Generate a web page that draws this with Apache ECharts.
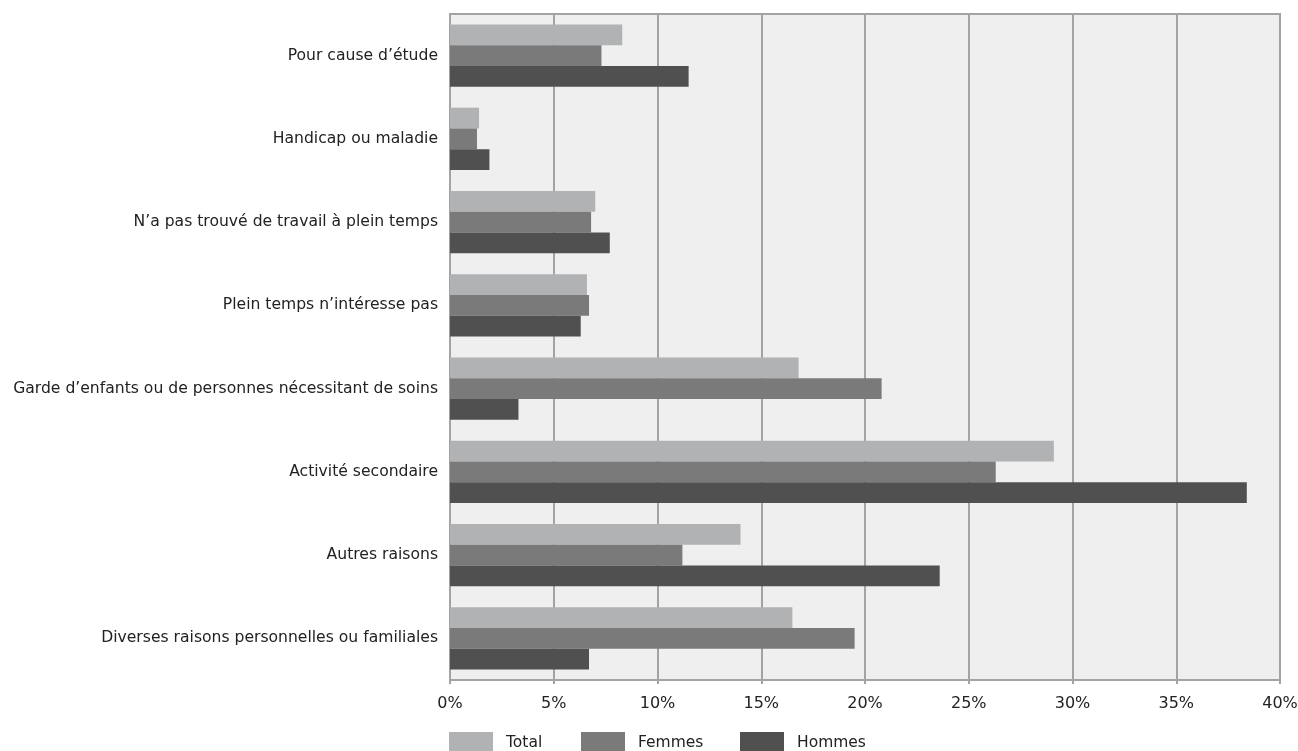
<!DOCTYPE html>
<html>
<head>
<meta charset="utf-8">
<script src="https://cdn.jsdelivr.net/npm/echarts@6/dist/echarts.min.js"></script>
<style>
html,body{margin:0;padding:0;background:#fff;}
#chart{width:1298px;height:751px;}
</style>
</head>
<body>
<div id="chart"></div>
<script>
const categories = [
  "Pour cause d’étude",
  "Handicap ou maladie",
  "N’a pas trouvé de travail à plein temps",
  "Plein temps n’intéresse pas",
  "Garde d’enfants ou de personnes nécessitant de soins",
  "Activité secondaire",
  "Autres raisons",
  "Diverses raisons personnelles ou familiales"
];
const seriesNames = ["Total", "Femmes", "Hommes"];
const totalValues  = [8.3, 1.4, 7.0, 6.6, 16.8, 29.1, 14.0, 16.5];
const femmesValues = [7.3, 1.3, 6.8, 6.7, 20.8, 26.3, 11.2, 19.5];
const hommesValues = [11.5, 1.9, 7.7, 6.3, 3.3, 38.4, 23.6, 6.7];
const xTicks = [0, 5, 10, 15, 20, 25, 30, 35, 40];

const colors = ["#b1b2b4", "#7a7a7a", "#505050"];
const font = "DejaVu Sans";
const chart = echarts.init(document.getElementById('chart'));
const legendLefts = [449, 581, 740];

chart.setOption({
  animation: false,
  grid: {
    left: 450, right: 18, top: 14, bottom: 71,
    containLabel: false, outerBoundsMode: 'none',
    show: true, backgroundColor: '#efefef',
    borderColor: '#a3a3a3', borderWidth: 2
  },
  legend: seriesNames.map((n, i) => ({
    data: [n], left: legendLefts[i], top: 732, padding: 0,
    itemWidth: 44, itemHeight: 22, icon: 'rect',
    textStyle: { fontFamily: font, fontSize: 15.5, color: '#222', padding: [0, 0, 0, 8] }
  })),
  xAxis: {
    type: 'value', min: xTicks[0], max: xTicks[xTicks.length - 1], interval: 5,
    axisLine: { show: true, lineStyle: { color: '#a3a3a3', width: 2 } },
    axisTick: { show: true, length: 4, lineStyle: { color: '#a3a3a3', width: 2 } },
    splitLine: { show: true, lineStyle: { color: '#a3a3a3', width: 2 } },
    axisLabel: { formatter: '{value}%', fontFamily: font, fontSize: 16, color: '#222', margin: 16 }
  },
  yAxis: {
    type: 'category', data: categories, inverse: true,
    axisLine: { show: true, lineStyle: { color: '#a3a3a3', width: 2 } },
    axisTick: { show: false },
    axisLabel: { fontFamily: font, fontSize: 15.6, color: '#222', margin: 12 }
  },
  series: [
    { name: seriesNames[0], type: 'bar', data: totalValues, itemStyle: { color: colors[0] }, barGap: '0%', barCategoryGap: '25%' },
    { name: seriesNames[1], type: 'bar', data: femmesValues, itemStyle: { color: colors[1] }, barGap: '0%', barCategoryGap: '25%' },
    { name: seriesNames[2], type: 'bar', data: hommesValues, itemStyle: { color: colors[2] }, barGap: '0%', barCategoryGap: '25%' }
  ]
});
</script>
</body>
</html>
